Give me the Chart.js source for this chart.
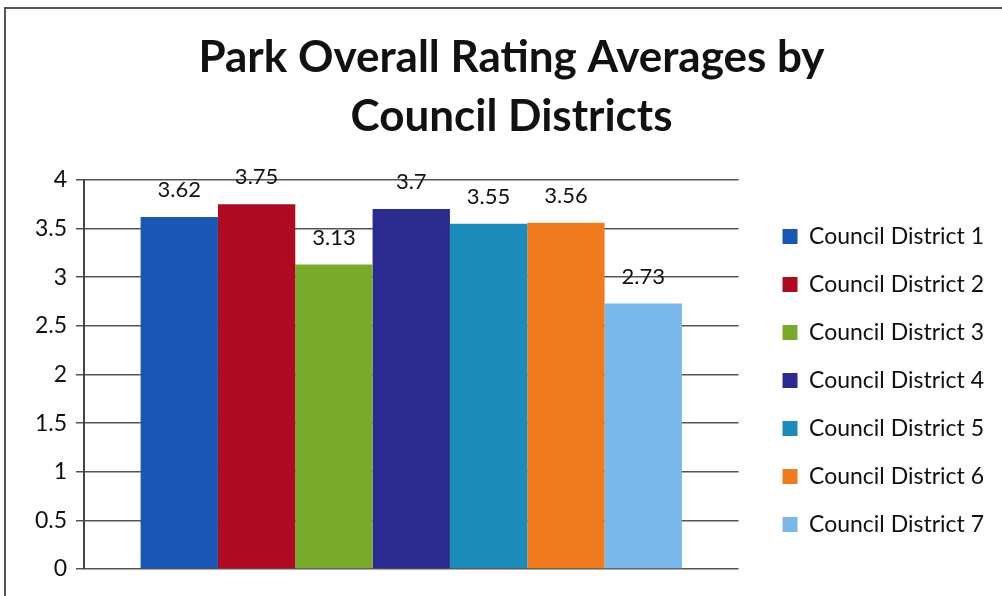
<!DOCTYPE html>
<html>
<head>
<meta charset="utf-8">
<script src="https://cdn.jsdelivr.net/npm/chart.js@4"></script>
<style>
  html, body { margin: 0; padding: 0; background: #fff; }
  #wrap { width: 1002px; height: 596px; }
</style>
</head>
<body>
<div id="wrap"><canvas id="barChart" width="1002" height="596"></canvas></div>
<script>
var districts = ["Council District 1", "Council District 2", "Council District 3", "Council District 4",
                 "Council District 5", "Council District 6", "Council District 7"];
var ratings = [3.62, 3.75, 3.13, 3.7, 3.55, 3.56, 2.73];
var barColors = ["#1a56b4", "#ae0a22", "#7aaa2c", "#2b2a8f", "#1b8bb9", "#f07b1f", "#7ab8ea"];
var yTicks = [0, 0.5, 1, 1.5, 2, 2.5, 3, 3.5, 4];

var fontFamily = "Lato, 'Open Sans', sans-serif";

// white page + the scanned frame (left and top edges only)
var framePlugin = {
    id: "frame",
    beforeDraw: function (chart) {
        var c = chart.ctx;
        c.save();
        c.fillStyle = "#fff";
        c.fillRect(0, 0, chart.width, chart.height);
        c.strokeStyle = "#555";
        c.lineWidth = 2;
        c.strokeRect(5, 8, chart.width + 20, chart.height + 20);
        c.restore();
    }
};

// legend list starts a bit below the top of the plot, like the original
var legendTop = {
    id: "legendTop",
    afterLayout: function (chart) {
        var lg = chart.legend;
        if (!lg) return;
        var d = 200 - lg.top;
        lg.top += d;
        lg.bottom += d;
    }
};

// value labels above each bar
var valueLabels = {
    id: "valueLabels",
    afterDatasetsDraw: function (chart) {
        var c = chart.ctx;
        c.save();
        c.font = "22px " + fontFamily;
        c.fillStyle = "#111";
        c.textAlign = "center";
        c.textBaseline = "middle";
        chart.data.datasets.forEach(function (ds, i) {
            var bar = chart.getDatasetMeta(i).data[0];
            c.fillText(String(ds.data[0]), bar.x, bar.y - 27);
        });
        c.restore();
    }
};

var datasets = districts.map(function (name, i) {
    return {
        label: name,
        data: [ratings[i]],
        backgroundColor: barColors[i],
        borderWidth: 0,
        barPercentage: 1,
        categoryPercentage: 0.827
    };
});

var ctx = document.getElementById("barChart").getContext("2d");
var barChart = new Chart(ctx, {
    type: "bar",
    data: {
        labels: [""],
        datasets: datasets
    },
    options: {
        responsive: false,
        animation: false,
        layout: {
            padding: { left: 29, right: 8, top: 22, bottom: 19 }
        },
        scales: {
            x: {
                ticks: { display: false },
                grid: { display: false },
                border: { display: false }
            },
            y: {
                min: 0,
                max: 4,
                afterBuildTicks: function (scale) {
                    scale.ticks = yTicks.map(function (v) { return { value: v }; });
                },
                afterFit: function (scale) { scale.width = 55; },
                ticks: {
                    color: "#111",
                    font: { family: fontFamily, size: 23 },
                    padding: 9,
                    callback: function (v) { return String(v); }
                },
                grid: {
                    color: "#555",
                    lineWidth: 1.5,
                    tickLength: 8
                },
                border: { color: "#444", width: 2 }
            },
            // empty spacer between plot and legend
            gap: {
                type: "linear",
                position: "right",
                display: true,
                afterFit: function (scale) { scale.width = 19; },
                ticks: { display: false },
                grid: { display: false },
                border: { display: false }
            }
        },
        plugins: {
            title: {
                display: true,
                text: ["Park Overall Rating Averages by", "Council Districts"],
                color: "#111",
                font: { family: fontFamily, size: 44, weight: "bold", lineHeight: 1.34 },
                padding: { top: 6, bottom: 34 }
            },
            legend: {
                position: "right",
                align: "start",
                maxWidth: 320,
                labels: {
                    color: "#111",
                    font: { family: fontFamily, size: 23 },
                    boxWidth: 15,
                    boxHeight: 15,
                    padding: 25
                }
            },
            tooltip: { enabled: false }
        }
    },
    plugins: [framePlugin, legendTop, valueLabels]
});
</script>
</body>
</html>
